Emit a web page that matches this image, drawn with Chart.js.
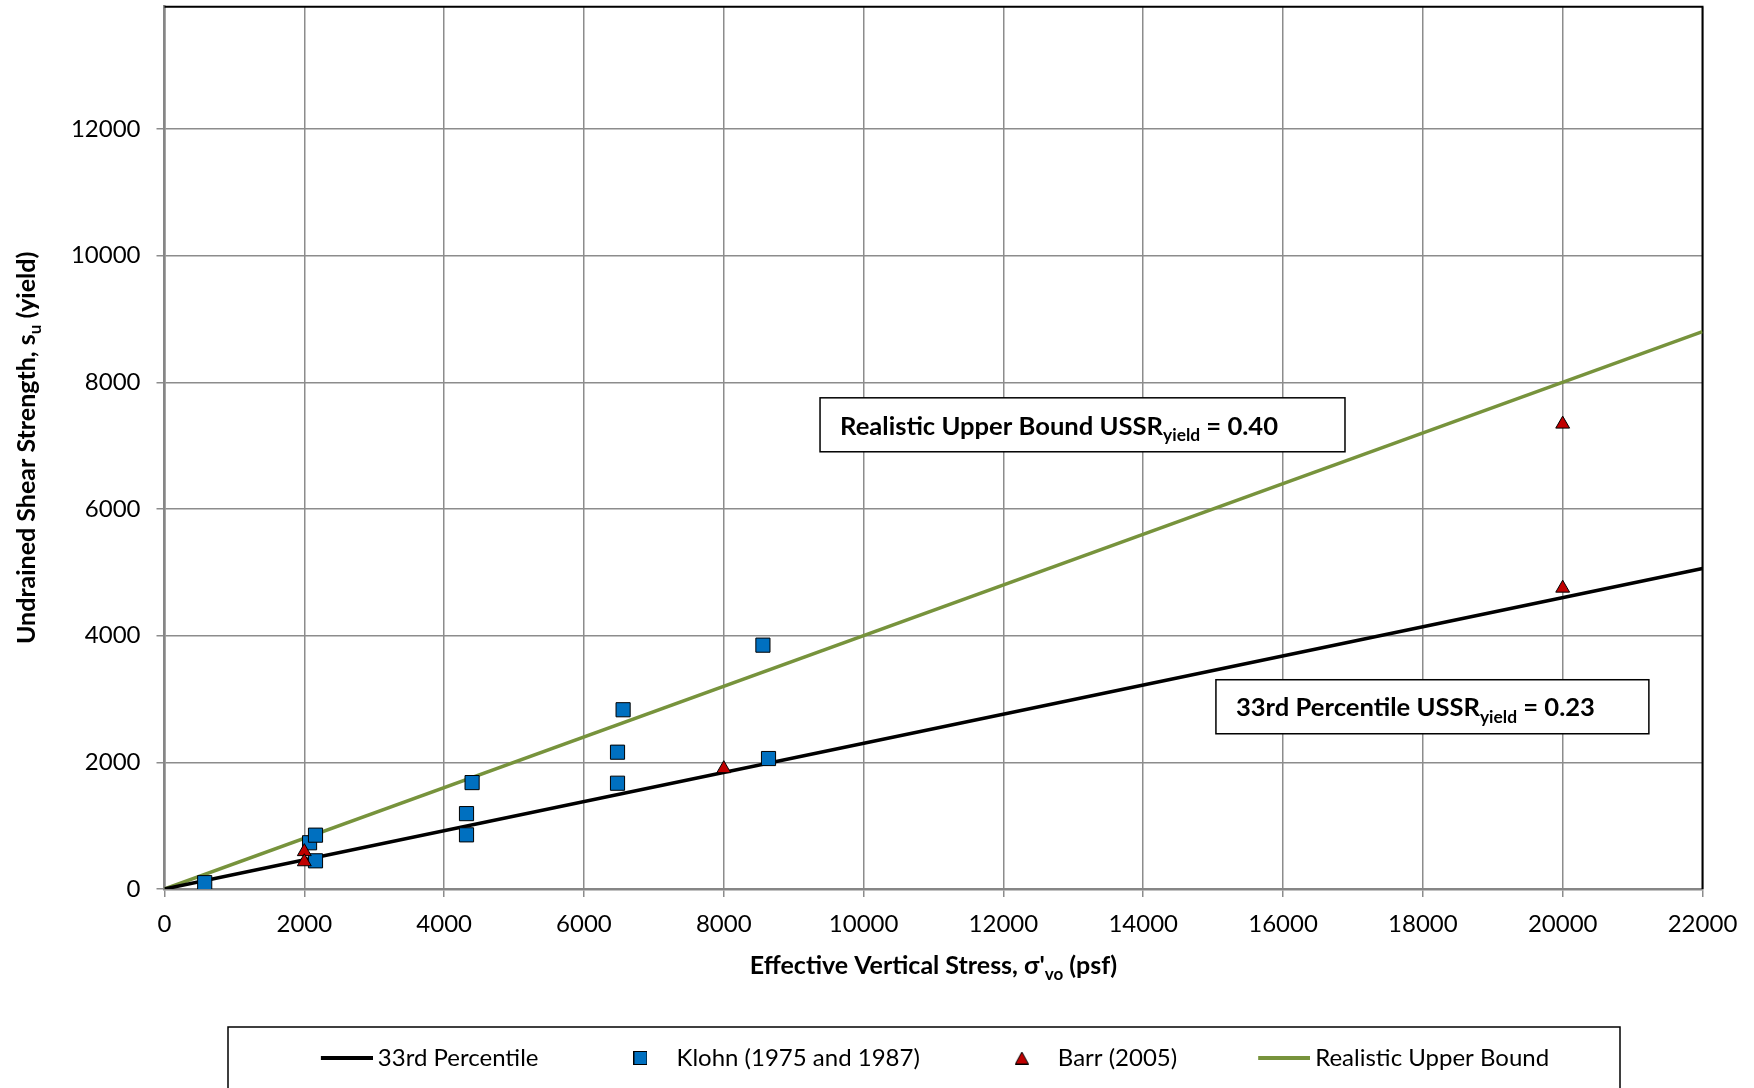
<!DOCTYPE html>
<html>
<head>
<meta charset="utf-8">
<script src="https://cdn.jsdelivr.net/npm/chart.js@4.4.1/dist/chart.umd.min.js"></script>
<style>
    html, body { margin: 0; padding: 0; background: #fff; overflow: hidden; }
    #wrap { width: 1754px; height: 1088px; position: relative; }
</style>
</head>
<body>
<div id="wrap"><canvas id="chart"></canvas></div>
<script>
// data
const klohnX = [575, 2075, 2160, 2160, 4320, 4320, 4400, 6480, 6480, 6560, 8560, 8640];
const klohnY = [100, 730, 850, 445, 855, 1190, 1680, 1670, 2160, 2830, 3850, 2060];
const barrX = [2000, 2000, 8000, 20000, 20000];
const barrY = [590, 430, 1900, 7340, 4750];
const pct33X = [0, 22000];
const pct33Y = [0, 5060];
const upperX = [0, 22000];
const upperY = [0, 8800];

const xTicks = [0, 2000, 4000, 6000, 8000, 10000, 12000, 14000, 16000, 18000, 20000, 22000];
const yTicks = [0, 2000, 4000, 6000, 8000, 10000, 12000];

const FONT = "Lato";
const gridColor = "#8c8c8c";
const axisColor = "#868686";
const plotTop = 6.7;

// annotation boxes, placed in data units
const notes = [
    { x0: 9377, x1: 16886, y0: 7755, y1: 6903, parts: [["Realistic Upper Bound USSR", false], ["yield", true], [" = 0.40", false]] },
    { x0: 15040, x1: 21233, y0: 3304, y1: 2451, parts: [["33rd Percentile USSR", false], ["yield", true], [" = 0.23", false]] }
];

function pts(xs, ys) {
    return xs.map((x, i) => ({ x, y: ys[i] }));
}

function swatch(w, h, draw) {
    const c = document.createElement("canvas");
    c.width = w;
    c.height = h;
    draw(c.getContext("2d"), w, h);
    return c;
}

// line samples sit in the right part of a wider canvas so the text follows close behind
const legendIcons = [
    swatch(62, 4, (c, w, h) => { c.fillStyle = "#000"; c.fillRect(10, 0, 52, h); }),
    swatch(14, 14, (c, w, h) => {
        c.fillStyle = "#0070C0"; c.fillRect(0, 0, w, h);
        c.strokeStyle = "#000"; c.lineWidth = 1; c.strokeRect(0.5, 0.5, w - 1, h - 1);
    }),
    swatch(14, 13, (c, w, h) => {
        c.beginPath(); c.moveTo(w / 2, 0.5); c.lineTo(w - 0.5, h - 0.5); c.lineTo(0.5, h - 0.5); c.closePath();
        c.fillStyle = "#C00000"; c.fill();
        c.strokeStyle = "#000"; c.lineWidth = 1; c.stroke();
    }),
    swatch(62, 4, (c, w, h) => { c.fillStyle = "#77933C"; c.fillRect(10, 0, 52, h); })
];

function drawRich(ctx, parts, x, y, size, weight, align) {
    const subSize = size * 0.68;
    let total = 0;
    parts.forEach(([t, sub]) => {
        ctx.font = `${weight} ${sub ? subSize : size}px ${FONT}`;
        total += ctx.measureText(t).width;
    });
    let cx = align === "center" ? x - total / 2 : x;
    ctx.textAlign = "left";
    ctx.textBaseline = "alphabetic";
    parts.forEach(([t, sub]) => {
        ctx.font = `${weight} ${sub ? subSize : size}px ${FONT}`;
        ctx.fillText(t, cx, sub ? y + size * 0.24 : y);
        cx += ctx.measureText(t).width;
    });
}

const decorations = {
    id: "decorations",
    afterLayout(chart) {
        // the layout keeps a margin above the plot; pull the top edge up to match
        const a = chart.chartArea, y = chart.scales.y;
        a.top = plotTop;
        a.height = a.bottom - plotTop;
        y.top = plotTop;
        y.height = y.bottom - plotTop;
        y.configure();
    },
    beforeDatasetsDraw(chart) {
        const { ctx, chartArea: a, scales: { x, y } } = chart;
        ctx.save();
        ctx.strokeStyle = "#000";
        ctx.lineWidth = 2;
        ctx.beginPath();
        ctx.moveTo(a.left, a.top);
        ctx.lineTo(a.right, a.top);
        ctx.lineTo(a.right, a.bottom);
        ctx.stroke();

        notes.forEach(n => {
            const l = x.getPixelForValue(n.x0), r = x.getPixelForValue(n.x1);
            const t = y.getPixelForValue(n.y0), b = y.getPixelForValue(n.y1);
            ctx.fillStyle = "#fff";
            ctx.fillRect(l, t, r - l, b - t);
            ctx.strokeStyle = "#000";
            ctx.lineWidth = 1.5;
            ctx.strokeRect(l, t, r - l, b - t);
            ctx.fillStyle = "#000";
            drawRich(ctx, n.parts, l + 20, t + (b - t) * 0.68, 25.6, "bold", "left");
        });
        ctx.restore();
    },
    afterDraw(chart) {
        const { ctx, chartArea: a } = chart;
        ctx.save();
        ctx.fillStyle = "#000";
        drawRich(ctx, [["Effective Vertical Stress, σ'", false], ["vo", true], [" (psf)", false]],
            (a.left + a.right) / 2, 974, 25, "bold", "center");

        ctx.translate(35, (a.top + a.bottom) / 2);
        ctx.rotate(-Math.PI / 2);
        drawRich(ctx, [["Undrained Shear Strength, s", false], ["u", true], [" (yield)", false]],
            0, 0, 25, "bold", "center");
        ctx.restore();

        // frame round the legend, running off the bottom edge
        ctx.save();
        ctx.strokeStyle = "#000";
        ctx.lineWidth = 1.5;
        ctx.strokeRect(228, 1027, 1392, 100);
        ctx.restore();
    }
};

Chart.defaults.font.family = FONT;
Chart.defaults.color = "#000";

new Chart(document.getElementById("chart"), {
    type: "scatter",
    data: {
        datasets: [
            {
                label: "33rd Percentile",
                data: pts(pct33X, pct33Y),
                showLine: true,
                borderColor: "#000",
                borderWidth: 3.5,
                pointRadius: 0,
                order: 2
            },
            {
                label: "Klohn (1975 and 1987)",
                data: pts(klohnX, klohnY),
                pointStyle: "rect",
                pointRadius: 10,
                backgroundColor: "#0070C0",
                borderColor: "#000",
                borderWidth: 1,
                order: 1
            },
            {
                label: "Barr (2005)",
                data: pts(barrX, barrY),
                pointStyle: "triangle",
                pointRadius: 8,
                backgroundColor: "#C00000",
                borderColor: "#000",
                borderWidth: 1,
                order: 0
            },
            {
                label: "Realistic Upper Bound",
                data: pts(upperX, upperY),
                showLine: true,
                borderColor: "#77933C",
                borderWidth: 3.5,
                pointRadius: 0,
                order: 3
            }
        ]
    },
    options: {
        responsive: true,
        maintainAspectRatio: false,
        animation: false,
        devicePixelRatio: 1,
        events: [],
        layout: {
            padding: { left: 0, right: 51.5, top: 6.7, bottom: 8 }
        },
        plugins: {
            tooltip: { enabled: false },
            legend: {
                position: "bottom",
                fullSize: false,
                labels: {
                    usePointStyle: true,
                    pointStyleWidth: 48,
                    padding: 78,
                    font: { size: 24 },
                    color: "#000",
                    generateLabels: chart => chart.data.datasets.map((ds, i) => ({
                        text: ds.label,
                        datasetIndex: i,
                        pointStyle: legendIcons[i],
                        fillStyle: "transparent",
                        strokeStyle: "transparent",
                        lineWidth: 0,
                        fontColor: "#000",
                        hidden: false
                    }))
                }
            }
        },
        scales: {
            x: {
                type: "linear",
                min: 0,
                max: 22000,
                afterBuildTicks: s => { s.ticks = xTicks.map(v => ({ value: v })); },
                afterFit: s => {
                    s.height = 79;
                    s.paddingLeft = 0; s.paddingRight = 0;
                },
                ticks: {
                    font: { size: 24 },
                    padding: 13,
                    maxRotation: 0,
                    callback: v => String(v)
                },
                grid: { color: gridColor, lineWidth: 1.5, tickLength: 8 },
                border: { color: axisColor, width: 2.5 }
            },
            y: {
                type: "linear",
                min: 0,
                max: 13930,
                afterBuildTicks: s => { s.ticks = yTicks.map(v => ({ value: v })); },
                afterFit: s => {
                    s.width = 164.5;
                    s.paddingTop = 0; s.paddingBottom = 0;
                },
                ticks: {
                    font: { size: 24 },
                    padding: 16,
                    callback: v => String(v)
                },
                grid: { color: gridColor, lineWidth: 1.5, tickLength: 8 },
                border: { color: axisColor, width: 2.5 }
            }
        }
    },
    plugins: [decorations]
});
</script>
</body>
</html>
